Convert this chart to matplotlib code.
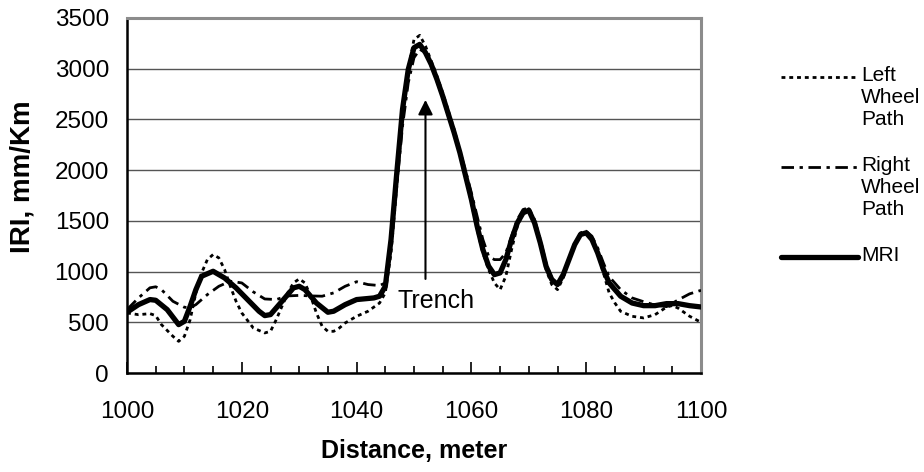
import matplotlib
matplotlib.use("Agg")
import matplotlib.pyplot as plt
from matplotlib.lines import Line2D
from matplotlib.ticker import MultipleLocator

plt.rcParams['font.family'] = ['Liberation Sans', 'DejaVu Sans']

# distance (m) and IRI (mm/Km)
x_left = [1000, 1002, 1004, 1005, 1006, 1008, 1009, 1010, 1011, 1012, 1013, 1014, 1015, 1016,
          1017, 1018, 1019, 1020, 1022, 1024, 1025, 1026, 1028, 1029, 1030, 1031, 1032, 1033,
          1034, 1035, 1036, 1037, 1038, 1040, 1042, 1044, 1045, 1046, 1047, 1048, 1049, 1050,
          1051, 1052, 1053, 1054, 1055, 1056, 1057, 1058, 1059, 1060, 1061, 1062, 1063, 1064,
          1065, 1066, 1067, 1068, 1069, 1070, 1071, 1072, 1073, 1074, 1075, 1076, 1077, 1078,
          1079, 1080, 1081, 1082, 1083, 1084, 1085, 1086, 1088, 1090, 1092, 1094, 1095, 1096,
          1098, 1100]
left_iri = [592, 575, 585, 566, 477, 362, 312, 362, 526, 790, 987, 1118, 1168, 1135,
            1020, 855, 707, 592, 444, 395, 411, 526, 790, 888, 928, 888, 757, 592,
            460, 411, 411, 444, 493, 559, 609, 690, 790, 1184, 1842, 2533, 2993, 3289,
            3329, 3224, 3076, 2928, 2763, 2582, 2401, 2188, 1941, 1678, 1414, 1184, 1020, 888,
            822, 954, 1217, 1447, 1579, 1618, 1497, 1283, 1020, 872, 822, 937, 1118, 1266,
            1382, 1398, 1332, 1184, 987, 790, 690, 608, 559, 543, 575, 650, 665, 640,
            560, 500]

x_right = [1000, 1002, 1004, 1005, 1006, 1008, 1010, 1011, 1012, 1014, 1016, 1018, 1020, 1022,
           1024, 1026, 1028, 1030, 1032, 1034, 1036, 1038, 1040, 1042, 1044, 1045, 1046, 1047,
           1048, 1049, 1050, 1051, 1052, 1053, 1054, 1055, 1056, 1057, 1058, 1059, 1060, 1061,
           1062, 1063, 1064, 1065, 1066, 1067, 1068, 1069, 1070, 1071, 1072, 1073, 1074, 1075,
           1076, 1077, 1078, 1079, 1080, 1081, 1082, 1083, 1084, 1086, 1088, 1090, 1092, 1094,
           1096, 1098, 1100]
right_iri = [625, 740, 840, 850, 822, 707, 648, 645, 674, 773, 855, 905, 888, 800,
             730, 724, 760, 765, 760, 757, 790, 855, 900, 872, 862, 888, 1316, 1842,
             2434, 2862, 3109, 3191, 3158, 3026, 2878, 2714, 2533, 2368, 2188, 1990, 1776, 1546,
             1316, 1151, 1118, 1118, 1184, 1349, 1513, 1612, 1628, 1513, 1316, 1085, 937, 872,
             954, 1118, 1266, 1365, 1398, 1349, 1234, 1085, 950, 822, 740, 703, 670, 654,
             720, 780, 815]

x_mri = [1000, 1002, 1004, 1005, 1007, 1009, 1010, 1011, 1012, 1013, 1015, 1017, 1019, 1021,
         1023, 1024, 1025, 1027, 1029, 1030, 1031, 1033, 1035, 1036, 1038, 1040, 1043, 1044,
         1045, 1046, 1047, 1048, 1049, 1050, 1051, 1052, 1053, 1054, 1055, 1056, 1057, 1058,
         1059, 1060, 1061, 1062, 1063, 1064, 1065, 1066, 1067, 1068, 1069, 1070, 1071, 1072,
         1073, 1074, 1075, 1076, 1077, 1078, 1079, 1080, 1081, 1082, 1083, 1084, 1086, 1088,
         1090, 1092, 1094, 1096, 1098, 1100]
mri = [599, 674, 724, 717, 625, 477, 510, 658, 822, 954, 1003, 937, 839, 724,
       609, 566, 576, 707, 839, 855, 822, 690, 599, 609, 674, 724, 740, 757,
       855, 1316, 1974, 2600, 2993, 3207, 3240, 3158, 3043, 2895, 2730, 2549, 2368, 2171,
       1941, 1711, 1447, 1217, 1053, 970, 987, 1118, 1316, 1480, 1579, 1605, 1480, 1283,
       1053, 921, 872, 970, 1118, 1266, 1365, 1382, 1316, 1184, 1020, 888, 757, 690,
       664, 664, 684, 684, 664, 651]

series_labels = ['Left\nWheel\nPath', 'Right\nWheel\nPath', 'MRI']

trench_x = 1052
trench_from = 900
trench_to = 2720

fig = plt.figure(figsize=(9.24, 4.72), dpi=100)
ax = fig.add_axes([127 / 924, 1 - 373 / 472, 574 / 924, 355 / 472])

ls_left = (0, (1.4, 1.4))
ls_right = (0, (4.5, 2, 1.2, 2))

ax.plot(x_left, left_iri, color='black', lw=2.0, linestyle=ls_left, zorder=3)
ax.plot(x_right, right_iri, color='black', lw=2.0, linestyle=ls_right, zorder=3)
ax.plot(x_mri, mri, color='black', lw=3.8, solid_capstyle='round', zorder=4)

ax.set_xlim(1000, 1100)
ax.set_ylim(0, 3500)
ax.xaxis.set_major_locator(MultipleLocator(20))
ax.xaxis.set_minor_locator(MultipleLocator(5))
ax.yaxis.set_major_locator(MultipleLocator(500))
ax.tick_params(axis='x', which='both', direction='in', colors='black', width=1.2,
               labelsize=17.5, pad=20)
ax.tick_params(axis='x', which='major', length=8)
ax.tick_params(axis='x', which='minor', length=5)
ax.tick_params(axis='y', length=0, labelsize=17.5, pad=13)
ax.grid(axis='y', color='#555555', lw=1.0)
ax.set_axisbelow(True)

for side in ['left', 'bottom']:
    ax.spines[side].set_color('black')
    ax.spines[side].set_linewidth(1.8)
for side in ['top', 'right']:
    ax.spines[side].set_color('#8c8c8c')
    ax.spines[side].set_linewidth(2.2)

ax.set_xlabel('Distance, meter', fontsize=18, fontweight='bold', labelpad=12)
ax.set_ylabel('IRI, mm/Km', fontsize=20, fontweight='bold')
ax.yaxis.set_label_coords(-0.160, 0.552)

# trench marker
ax.annotate('', xy=(trench_x, trench_to), xytext=(trench_x, trench_from),
            arrowprops=dict(arrowstyle='-|>', color='black', lw=1.5, mutation_scale=22))
ax.text(1047.2, 710, 'Trench', fontsize=18, va='center', ha='left')

# legend drawn by hand, line on the first text row
leg_styles = [dict(lw=2.0, linestyle=ls_left), dict(lw=2.0, linestyle=ls_right),
              dict(lw=3.8, solid_capstyle='round')]
leg_y = [1 - 77 / 472, 1 - 167 / 472, 1 - 257 / 472]
for lab, st, yy in zip(series_labels, leg_styles, leg_y):
    fig.add_artist(Line2D([781 / 924, 858 / 924], [yy, yy], color='black',
                          transform=fig.transFigure, **st))
    fig.text(861 / 924, yy + 11 / 472, lab, fontsize=15, va='top', ha='left',
             linespacing=1.2)

fig.savefig('out.png', dpi=100)
